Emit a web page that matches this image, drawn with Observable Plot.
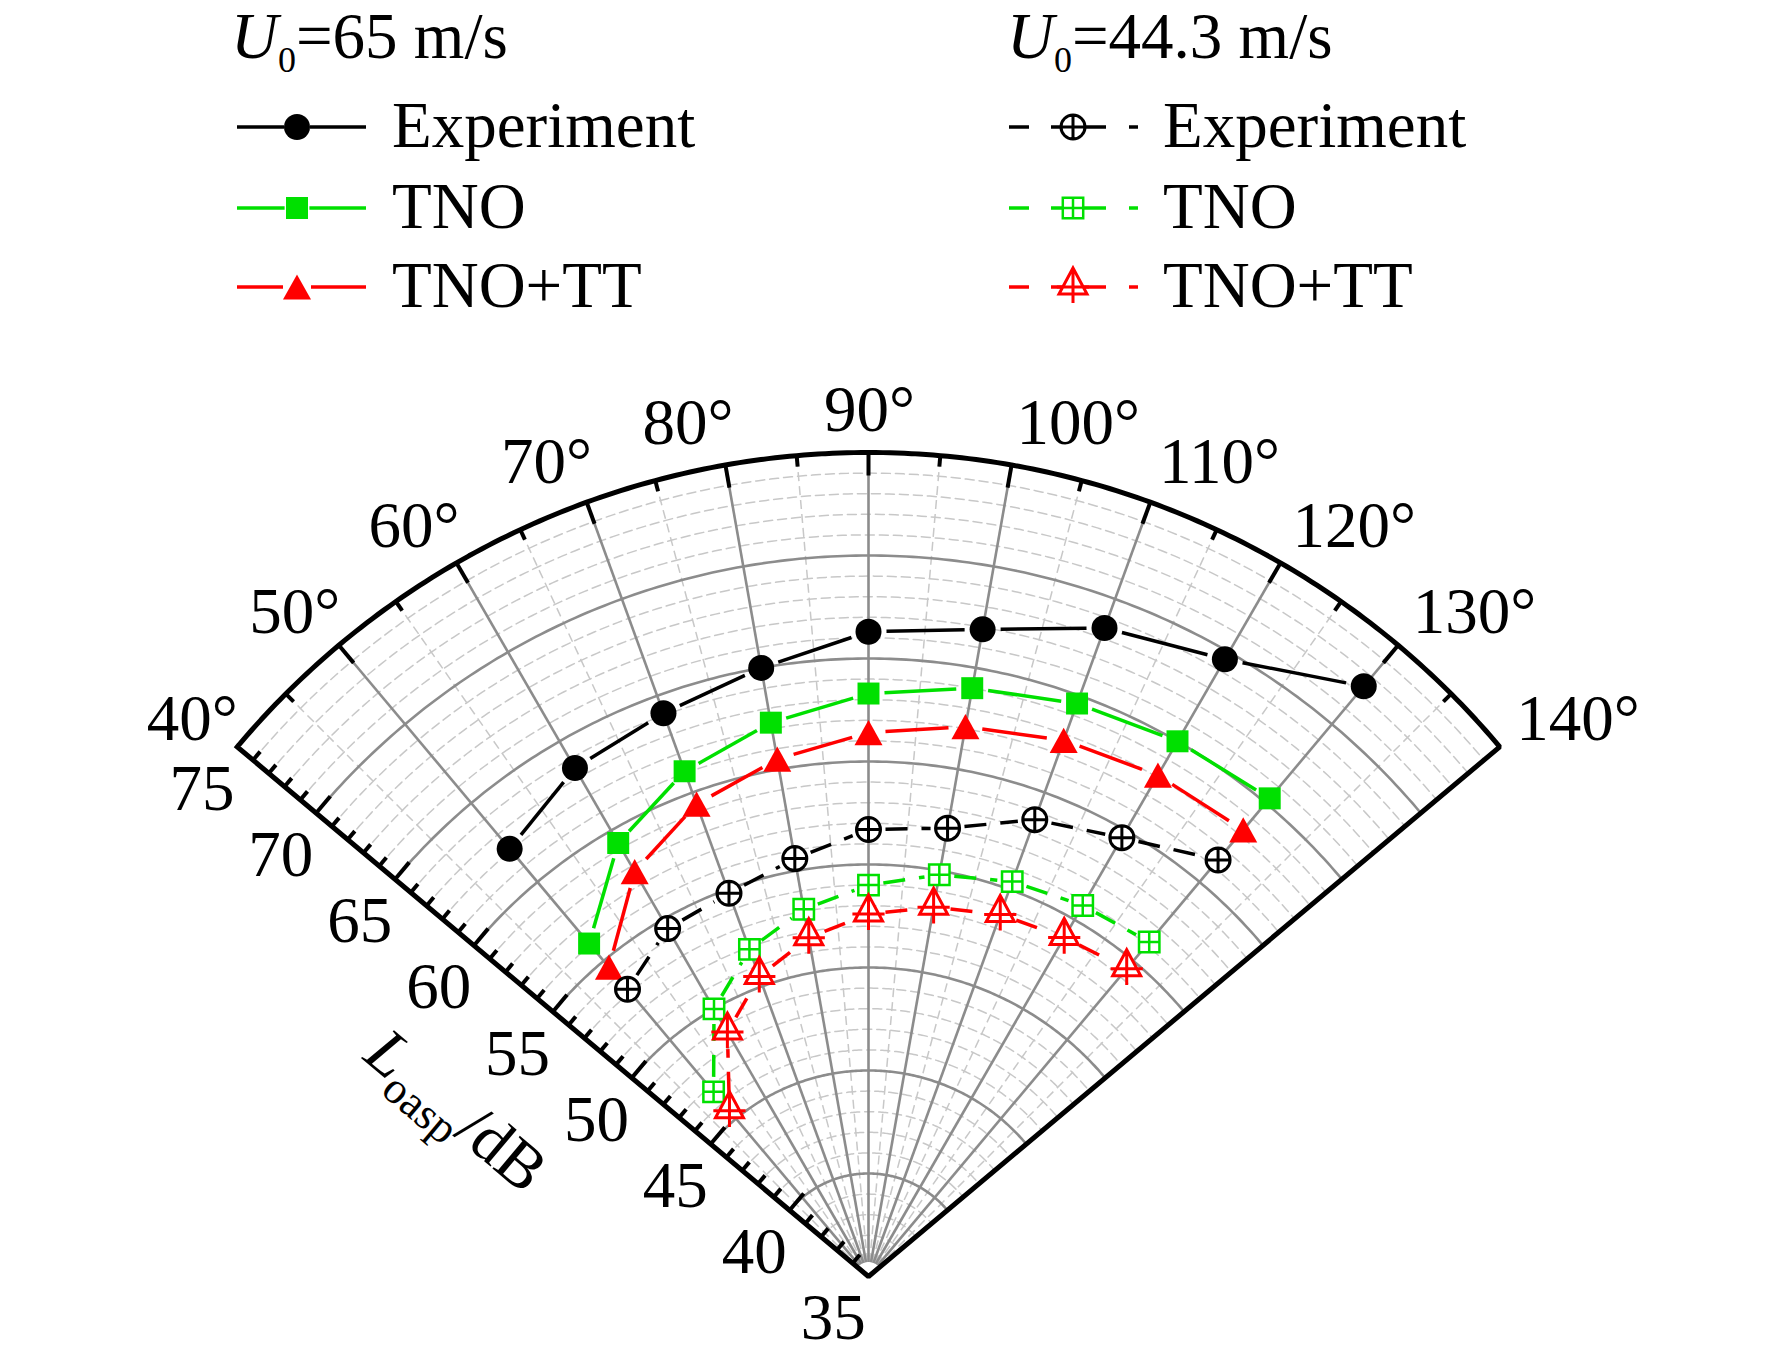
<!DOCTYPE html>
<html>
<head>
<meta charset="utf-8">
<script src="https://cdn.jsdelivr.net/npm/d3@7"></script>
<script src="https://cdn.jsdelivr.net/npm/@observablehq/plot@0.6"></script>
<style>
  body { margin: 0; background: #fff; }
  svg { display: block; }
</style>
</head>
<body>
<div id="legend"></div>
<div id="chart"></div>
<script>
// Directivity angles (deg) and overall SPL (dB)
const angles = [50, 60, 70, 80, 90, 100, 110, 120, 130];
const exp65 = [62.1, 63.5, 64.1, 65.0, 66.3, 66.9, 68.5, 69.6, 72.4];
const tno65 = [56.1, 59.3, 61.1, 62.3, 63.3, 64.0, 64.6, 65.0, 65.3];
const tnott65 = [54.6, 57.7, 59.4, 60.5, 61.4, 62.1, 62.7, 63.1, 63.3];
const exp44 = [53.2, 54.5, 54.8, 55.6, 56.7, 57.1, 58.6, 59.6, 61.4];
const tno44 = [46.7, 50.0, 51.9, 53.1, 54.0, 54.8, 55.4, 55.8, 56.2];
const tnott44 = [45.5, 48.7, 50.5, 51.7, 52.6, 53.2, 53.7, 54.0, 54.5];

// axis ticks
const angleTicks = [40, 50, 60, 70, 80, 90, 100, 110, 120, 130, 140];
const angleMinor = [45, 55, 65, 75, 85, 95, 105, 115, 125, 135];
const levelTicks = [35, 40, 45, 50, 55, 60, 65, 70, 75];

const W = 1772, H = 1018;
const cx = 868, cy = 936, k = 20.6; // centre of the fan and px per dB
const r0 = 35, r1 = 75;
const font = "Liberation Serif, Times New Roman, serif";
const green = "#00e000", red = "#ff0000";

const rad = a => (180 - a) * Math.PI / 180;
const px = (L, a) => (L - r0) * Math.cos(rad(a));
const py = (L, a) => (L - r0) * Math.sin(rad(a));
// normals of the 40° edge (in dB units)
const nIn = {x: Math.sin(rad(40)), y: -Math.cos(rad(40))};
const nOut = {x: -nIn.x, y: -nIn.y};
// angle labels sit just outside the arc, nudged sideways
const rLab = r1 + 40 / k;
const labShift = a => a < 90 ? 31 - (a - 40) * 0.4 : a > 90 ? -2 - (a - 100) * 0.3 : 0;

// marker shapes
const symCirclePlus = {draw(c, size) {
  const r = Math.sqrt(size / Math.PI);
  c.moveTo(r, 0); c.arc(0, 0, r, 0, 2 * Math.PI);
  c.moveTo(-r, 0); c.lineTo(r, 0); c.moveTo(0, -r); c.lineTo(0, r);
}};
const symSquareGrid = {draw(c, size) {
  const h = Math.sqrt(size / Math.PI) * 0.85;
  c.rect(-h, -h, 2 * h, 2 * h);
  c.moveTo(-h, 0); c.lineTo(h, 0); c.moveTo(0, -h); c.lineTo(0, h);
}};
const symTriPlus = {draw(c, size) {
  const r = Math.sqrt(size / Math.PI);
  c.moveTo(0, -1.36 * r); c.lineTo(r, 0.5 * r); c.lineTo(-r, 0.5 * r); c.closePath();
  c.moveTo(0, -1.36 * r); c.lineTo(0, 1.15 * r);
  c.moveTo(-1.15 * r, 0); c.lineTo(1.15 * r, 0);
}};
const symTri = {draw(c, size) {
  const r = Math.sqrt(size / Math.PI);
  c.moveTo(0, -0.9 * r); c.lineTo(r, 0.9 * r); c.lineTo(-r, 0.9 * r); c.closePath();
}};

const series = [
  {values: exp65, color: "black", symbol: "circle", r: 13, fill: "black", sw: 0, gap: 18, dash: null},
  {values: tno65, color: green, symbol: "square", r: 12.4, fill: green, sw: 0, gap: 16, dash: null},
  {values: tnott65, color: red, symbol: symTri, r: 14, fill: red, sw: 0, gap: 17, dash: null},
  {values: exp44, color: "black", symbol: symCirclePlus, r: 12, fill: "white", sw: 3, gap: 17, dash: "22 14"},
  {values: tno44, color: green, symbol: symSquareGrid, r: 12, fill: "white", sw: 2.5, gap: 15, dash: "22 14"},
  {values: tnott44, color: red, symbol: symTriPlus, r: 14, fill: "white", sw: 3, gap: 17, dash: "22 14"}
];

// connecting segments, cut short at each marker
function segments(s) {
  const pts = angles.map((a, i) => ({x: px(s.values[i], a), y: py(s.values[i], a)}));
  const g = s.gap / k;
  return pts.slice(1).map((q, i) => {
    const p = pts[i];
    const dx = q.x - p.x, dy = q.y - p.y, len = Math.hypot(dx, dy);
    const ux = dx / len, uy = dy / len;
    return {x1: p.x + ux * g, y1: p.y + uy * g, x2: q.x - ux * g, y2: q.y - uy * g};
  }).filter(d => (d.x2 - d.x1) * (d.x2 - d.x1) + (d.y2 - d.y1) * (d.y2 - d.y1) > 0);
}

const arcPts = L => d3.range(40, 140.001, 0.5).map(a => ({L, a}));
const minorCircles = d3.range(36, 75).filter(v => v % 5 !== 0).flatMap(arcPts);
const majorCircles = levelTicks.filter(v => v > r0 && v < r1).flatMap(arcPts);
const frame = [{L: r1, a: 40}, {L: r0, a: 40}, {L: r0, a: 140}, ...arcPts(r1).reverse()];
const edgeTicks = d3.range(36, 75).map(L => ({L, len: L % 5 === 0 ? 22 : 11}));
const arcTicks = d3.range(45, 136, 5).map(a => ({a, len: a % 10 === 0 ? 23 : 11}));

const marks = [
  // grid
  Plot.line(minorCircles, {x: d => px(d.L, d.a), y: d => py(d.L, d.a), z: "L", stroke: "#c8c8c8", strokeWidth: 1.5, strokeDasharray: "9 5"}),
  Plot.link(angleMinor, {x1: a => px(35.7, a), y1: a => py(35.7, a), x2: a => px(r1, a), y2: a => py(r1, a), stroke: "#c8c8c8", strokeWidth: 1.5, strokeDasharray: "9 5"}),
  Plot.line(majorCircles, {x: d => px(d.L, d.a), y: d => py(d.L, d.a), z: "L", stroke: "#8c8c8c", strokeWidth: 2.6}),
  Plot.link(angleTicks.filter(a => a > 40 && a < 140), {x1: a => px(35.7, a), y1: a => py(35.7, a), x2: a => px(r1, a), y2: a => py(r1, a), stroke: "#8c8c8c", strokeWidth: 2.6}),
  // frame and ticks
  Plot.link(edgeTicks, {x1: d => px(d.L, 40), y1: d => py(d.L, 40), x2: d => px(d.L, 40) + nIn.x * d.len / k, y2: d => py(d.L, 40) + nIn.y * d.len / k, stroke: "black", strokeWidth: 4}),
  Plot.link(arcTicks, {x1: d => px(r1, d.a), y1: d => py(r1, d.a), x2: d => px(r1 - d.len / k, d.a), y2: d => py(r1 - d.len / k, d.a), stroke: "black", strokeWidth: 4}),
  Plot.line(frame, {x: d => px(d.L, d.a), y: d => py(d.L, d.a), stroke: "black", strokeWidth: 5, strokeLinejoin: "miter", strokeLinecap: "square"}),
  // tick labels
  Plot.text(levelTicks, {x: L => px(L, 40) + nOut.x * 55 / k, y: L => py(L, 40) + nOut.y * 55 / k, text: L => String(L), fontSize: 65, fontFamily: font}),
  Plot.text(angleTicks.filter(a => a < 90), {x: a => px(rLab, a) + labShift(a) / k, y: a => py(rLab, a), text: a => a + "°", textAnchor: "end", dy: -2, fontSize: 65, fontFamily: font}),
  Plot.text([90], {x: a => px(rLab, a), y: a => py(rLab, a), text: a => a + "°", dx: 1, dy: -2, fontSize: 65, fontFamily: font}),
  Plot.text(angleTicks.filter(a => a > 90), {x: a => px(rLab, a) + labShift(a) / k, y: a => py(rLab, a), text: a => a + "°", textAnchor: "start", dy: -2, fontSize: 65, fontFamily: font}),
  Plot.text(["L_oasp/dB"], {x: () => px(55.5, 40) + nOut.x * 138 / k, y: () => py(55.5, 40) + nOut.y * 138 / k, text: d => d, rotate: 40, fontSize: 65, fontFamily: font})
];

for (const s of series) {
  const rows = angles.map((a, i) => ({a, L: s.values[i]}));
  marks.push(Plot.link(segments(s), {x1: "x1", y1: "y1", x2: "x2", y2: "y2", stroke: s.color, strokeWidth: 3.5, strokeDasharray: s.dash}));
  marks.push(Plot.dot(rows, {x: d => px(d.L, d.a), y: d => py(d.L, d.a), symbol: s.symbol, r: s.r, fill: s.fill, stroke: s.sw ? s.color : "none", strokeWidth: s.sw}));
}

const chart = Plot.plot({
  width: W,
  height: H,
  margin: 0,
  x: {domain: [-cx / k, (W - cx) / k], axis: null},
  y: {domain: [-(H - cy) / k, cy / k], axis: null},
  style: {background: "white", fontFamily: font, overflow: "visible"},
  marks
});

// axis title with italic L and subscript
d3.select(chart).selectAll("text").filter(function () { return this.textContent === "L_oasp/dB"; }).each(function () {
  const t = d3.select(this);
  t.text(null);
  t.append("tspan").attr("font-style", "italic").text("L");
  t.append("tspan").attr("font-size", 45).attr("dy", 15).text("oasp");
  t.append("tspan").attr("dy", -15).text("/dB");
});
document.getElementById("chart").appendChild(chart);

// legend above the plot
const leg = d3.create("svg").attr("width", W).attr("height", 340)
  .style("font-family", font).style("font-size", "65px");
const groups = [
  {x: 231, speed: "=65 m/s", items: series.slice(0, 3), dashed: false},
  {x: 1007, speed: "=44.3 m/s", items: series.slice(3), dashed: true}
];
const labels = ["Experiment", "TNO", "TNO+TT"];
const rowY = [127, 208, 287];
for (const g of groups) {
  const t = leg.append("text").attr("x", g.x).attr("y", 58);
  t.append("tspan").attr("font-style", "italic").text("U");
  t.append("tspan").attr("font-size", 36).attr("dy", 14).text("0");
  t.append("tspan").attr("dy", -14).text(g.speed);
  g.items.forEach((s, i) => {
    const y = rowY[i];
    const mx = g.x + 66;
    const segs = g.dashed
      ? [[g.x + 2, g.x + 22], [g.x + 44, mx - 8], [mx + 10, g.x + 99], [g.x + 122, g.x + 131]]
      : [[g.x + 6, mx - s.r], [mx + s.r, g.x + 135]];
    for (const [a, b] of segs) {
      leg.append("line").attr("x1", a).attr("x2", b).attr("y1", y).attr("y2", y)
        .attr("stroke", s.color).attr("stroke-width", 3.5);
    }
    const type = typeof s.symbol === "string" ? d3.symbolsFill[["circle", "cross", "diamond", "square", "star", "triangle", "wye"].indexOf(s.symbol)] : s.symbol;
    leg.append("path").attr("transform", `translate(${mx},${y})`)
      .attr("d", d3.symbol(type, Math.PI * s.r * s.r)())
      .attr("fill", s.fill).attr("stroke", s.sw ? s.color : "none").attr("stroke-width", s.sw);
    leg.append("text").attr("x", g.x + (g.dashed ? 156 : 161)).attr("y", rowY[i] + 20).text(labels[i]);
  });
}
document.getElementById("legend").appendChild(leg.node());
</script>
</body>
</html>
